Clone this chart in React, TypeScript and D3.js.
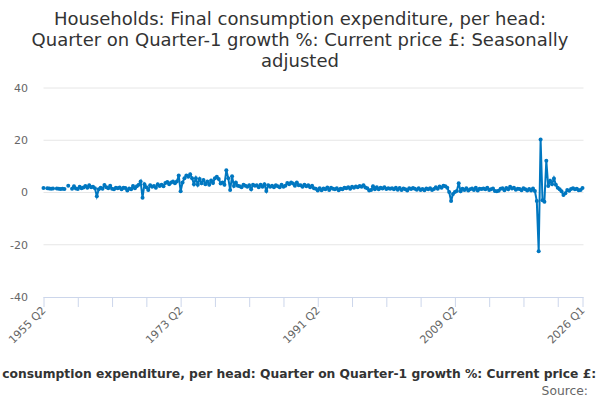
import * as d3 from "d3";

// quarterly growth %, 1955 Q2 .. 2026 Q1 (null = no value)
const values1955to1964: (number | null)[] = [
  1.7, null, 1.6,
  1.5, 1.4, 1.5, null,
  1.5, 1.4, 1.3, 1.4,
  1.3, null, 2.6, null,
  1.4, 2.4, 1.5, 1.3,
  2.2, 1.6, 1.9, 2.5,
  1.8, 2.8, 2.0, 2.2,
  1.6, -1.4, 1.2, 1.8,
  1.4, 2.9, 2.0, 1.6,
  2.6, 1.4, 1.2, 1.8,
];
const values1965to1974: (number | null)[] = [
  1.6, 1.9, 1.2, 1.8,
  1.7, 0.8, 1.5, 1.2,
  2.5, 1.6, 2.4, 3.0,
  4.2, -2.0, 3.2, 2.0,
  1.0, 2.8, 2.2, 2.5,
  1.8, 3.2, 2.5, 3.0,
  2.4, 3.6, 4.0, 3.2,
  3.8, 4.2, 3.5, 4.2,
  6.5, 0.5, 3.8, 5.5,
  6.5, 6.0, 7.0, 5.5,
];
const values1975to1984: (number | null)[] = [
  3.2, 5.5, 3.0, 5.2,
  3.5, 4.8, 3.2, 4.2,
  3.0, 4.6, 3.6, 5.5,
  6.0, 5.2, 3.4, 3.8,
  3.0, 8.5, 5.5, 1.0,
  6.2, 2.5, 3.8, 2.6,
  2.4, 2.0, 3.0, 2.6,
  2.2, 2.8, 1.2, 3.0,
  2.6, 2.8, 2.0, 3.0,
  2.2, 3.2, 0.6, 2.8,
];
const values1985to1994: (number | null)[] = [
  2.2, 2.6, 2.0, 2.8,
  2.4, 2.0, 3.0, 2.2,
  2.6, 3.6, 3.2, 3.8,
  3.4, 2.6, 3.8, 2.8,
  2.8, 2.2, 3.0, 2.4,
  2.8, 2.0, 2.6, 1.6,
  1.4, 0.8, 1.6, 0.9,
  1.5, 1.2, 1.9, 1.0,
  1.8, 1.4, 1.2, 1.6,
  0.9, 1.4, 1.2, 1.8,
];
const values1995to2004: (number | null)[] = [
  1.6, 2.0, 1.4, 2.2,
  1.8, 2.3, 2.0, 2.5,
  2.2, 2.8, 1.9, 1.6,
  0.8, 1.0, 2.4, 1.2,
  2.0, 1.2, 1.8, 1.5,
  2.0, 1.3, 1.6, 1.4,
  1.6, 1.2, 1.8, 1.1,
  1.7, 1.0, 1.5, 1.2,
  0.8, 1.6, 1.3, 1.7,
  1.4, 1.1, 1.6, 1.0,
];
const values2005to2014: (number | null)[] = [
  1.3, 0.9, 1.5, 1.2,
  1.6, 1.0, 1.3, 2.0,
  1.4, 2.3, 1.8, 2.6,
  2.4, 1.8, 0.2, -3.3,
  -0.6, 0.2, 0.6, 3.5,
  0.5, 1.4, 1.0, 1.6,
  0.8, 1.2, 1.5, 1.0,
  1.8, 0.8, 1.4, 1.3,
  1.5, 1.2, 1.8, 1.0,
  1.2, 1.5, 0.6, 0.5,
];
const values2015to2026: (number | null)[] = [
  0.7, 1.4, 1.6, 0.9,
  1.7, 1.2, 2.2, 1.5,
  1.8, 1.1, 1.4, 1.3,
  0.9, 1.6, 1.2, 0.8,
  1.3, 0.8, 1.5, 0.6,
  -3.3, -22.5, 20.3, -3.0,
  -3.5, 12.2, 2.5, 4.5,
  3.2, 5.4, 3.0, 1.8,
  1.2, 0.5, -1.0, -0.3,
  1.0, 0.7, 1.3, 1.6,
  1.2, 1.4, 0.9, 1.0,
  1.7,
];

const values = [
  ...values1955to1964,
  ...values1965to1974,
  ...values1975to1984,
  ...values1985to1994,
  ...values1995to2004,
  ...values2005to2014,
  ...values2015to2026,
];

const firstYear = 1955;
const firstQuarter = 2;
const categories = values.map((_, i) => {
  const q = firstQuarter - 1 + i;
  return `${firstYear + Math.floor(q / 4)} Q${(q % 4) + 1}`;
});

const yTicks = [-40, -20, 0, 20, 40];
const tickLabels = ["1955 Q2", "1973 Q2", "1991 Q2", "2009 Q2", "2026 Q1"];
const tickEvery = 18;

const titleLines = [
  "Households: Final consumption expenditure, per head:",
  "Quarter on Quarter-1 growth %: Current price £: Seasonally",
  "adjusted",
];
const footerText =
  "Households: Final consumption expenditure, per head: Quarter on Quarter-1 growth %: Current price £: Seasonally adjusted";

const width = 600;
const height = 400;
const left = 43.5;
const right = 582.5;
const top = 88;
const bottom = 297;
const blue = "#0077c0";
const font = "'DejaVu Sans', Verdana, sans-serif";

export default function App() {
  const x = d3.scalePoint<string>().domain(categories).range([left, right]);
  const y = d3.scaleLinear().domain([-40, 40]).range([bottom, top]);

  const line = d3
    .line<number | null>()
    .defined((d) => d != null)
    .x((_, i) => x(categories[i])!)
    .y((d) => y(d as number));

  const tickIdx = d3.range(0, categories.length, tickEvery);
  if (tickIdx[tickIdx.length - 1] !== categories.length - 1) tickIdx.push(categories.length - 1);

  return (
    <svg width={width} height={height} style={{ position: "absolute", left: 0, top: 0, fontFamily: font }}>
      <rect width={width} height={height} fill="#fff" />
      <text textAnchor="middle" fill="#333" fontSize={18}>
        {titleLines.map((t, i) => (
          <tspan key={i} x={width / 2} y={25 + i * 21}>
            {t}
          </tspan>
        ))}
      </text>

      {yTicks.map((t) => (
        <g key={t}>
          {t !== -40 && (
            <line x1={left} x2={right + 1} y1={y(t)} y2={y(t)} stroke="#e6e6e6" />
          )}
          <text x={28} y={y(t)} dy="0.35em" textAnchor="end" fontSize={11} fill="#666">
            {t}
          </text>
        </g>
      ))}

      <line x1={left} x2={right + 1} y1={bottom + 0.5} y2={bottom + 0.5} stroke="#ccd6eb" />
      {tickIdx.map((i) => (
        <line
          key={i}
          x1={x(categories[i])! + 0.5}
          x2={x(categories[i])! + 0.5}
          y1={bottom}
          y2={bottom + 10}
          stroke="#ccd6eb"
        />
      ))}
      {tickLabels.map((lab) => {
        const px = x(lab)!;
        return (
          <text
            key={lab}
            transform={`translate(${px + 3},${bottom + 14}) rotate(-45)`}
            textAnchor="end"
            fontSize={11}
            fill="#666"
          >
            {lab}
          </text>
        );
      })}

      <path d={line(values) ?? ""} fill="none" stroke={blue} strokeWidth={2} />
      {values.map((v, i) =>
        v == null ? null : (
          <circle key={i} cx={x(categories[i])!} cy={y(v)} r={2} fill={blue} />
        )
      )}

      <text x={307} y={378} textAnchor="middle" fontSize={12.3} fontWeight="bold" fill="#333">
        {footerText}
      </text>
      <text x={588} y={395} textAnchor="end" fontSize={12.3} fill="#666">
        Source:
      </text>
    </svg>
  );
}
